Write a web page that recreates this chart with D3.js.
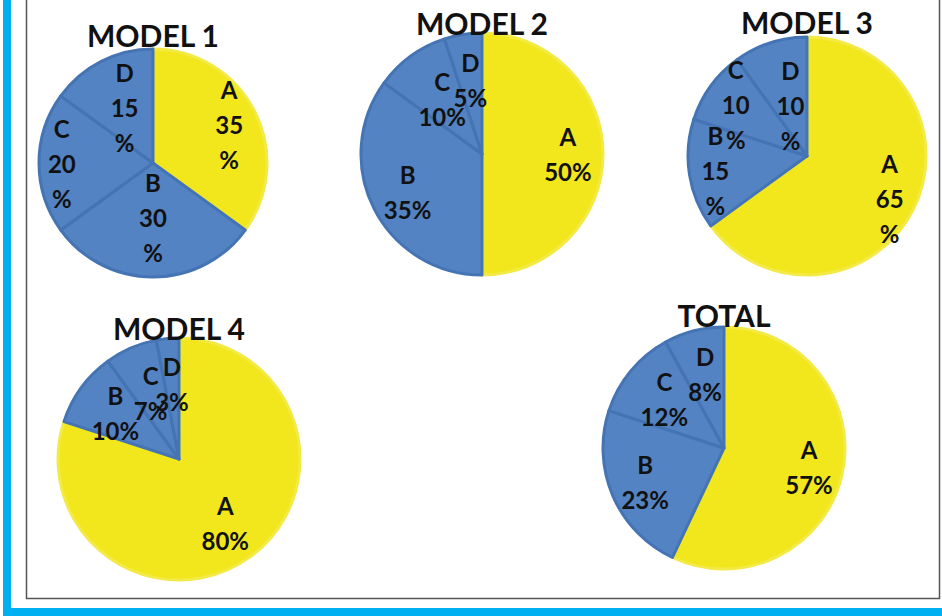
<!DOCTYPE html>
<html>
<head>
<meta charset="utf-8">
<script src="https://cdn.jsdelivr.net/npm/d3@7"></script>
<style>
  html, body { margin: 0; padding: 0; background: #fff; }
  svg { display: block; }
</style>
</head>
<body>
<svg id="chart" width="942" height="616"></svg>
<script>
// ---- data ----
const categories = ["A", "B", "C", "D"];
const chartTitles = ["MODEL 1", "MODEL 2", "MODEL 3", "MODEL 4", "TOTAL"];
const model1 = [35, 30, 20, 15];
const model2 = [50, 35, 10, 5];
const model3 = [65, 15, 10, 10];
const model4 = [80, 10, 7, 3];
const total  = [57, 23, 12, 8];
const seriesValues = [model1, model2, model3, model4, total];

// ---- layout (positions / sizes / styles) ----
const layout = [
  { cx: 153, cy: 163, r: 114, titleDy: -2, narrow: true,  labelR: [0.75, 0.48, 0.80, 0.55] },
  { cx: 482, cy: 154, r: 121, titleDy: 2,  narrow: false, labelR: [0.71, 0.69, 0.56, 0.62] },
  { cx: 807, cy: 156, r: 119, titleDy: -3, narrow: true,  labelR: [0.78, 0.78, 0.74, 0.45] },
  { cx: 179, cy: 459, r: 121, titleDy: 2,  narrow: false, labelR: [0.65, 0.65, 0.59, 0.62] },
  { cx: 724, cy: 448, r: 121, titleDy: 0,  narrow: false, labelR: [0.72, 0.71, 0.64, 0.63] }
];
const fillColor = d3.scaleOrdinal().domain(categories).range(["#f1e71c", "#5383c3", "#5383c3", "#5383c3"]);
const strokeColor = d3.scaleOrdinal().domain(categories).range(["#f3ea48", "#4574b4", "#4574b4", "#4574b4"]);
const font = "Lato, 'Open Sans', sans-serif";

const svg = d3.select("#chart");

// frame
svg.append("rect").attr("x", 0).attr("y", 0).attr("width", 942).attr("height", 616).attr("fill", "#fff");
svg.append("rect").attr("x", 3).attr("y", 0).attr("width", 8).attr("height", 616).attr("fill", "#00b0f0");
svg.append("rect").attr("x", 3).attr("y", 608).attr("width", 939).attr("height", 8).attr("fill", "#00b0f0");
svg.append("path")
  .attr("d", "M26.5,0 V598.5 H939.5 V0")
  .attr("fill", "none").attr("stroke", "#555").attr("stroke-width", 1.5);

const pie = d3.pie().sort(null).value(d => d);

seriesValues.forEach((vals, i) => {
  const L = layout[i];
  const g = svg.append("g").attr("transform", `translate(${L.cx},${L.cy})`);
  const arcs = pie(vals);
  const arc = d3.arc().innerRadius(0).outerRadius(L.r);

  g.selectAll("path.slice").data(arcs).enter().append("path")
    .attr("class", "slice")
    .attr("d", arc)
    .attr("fill", (d, j) => fillColor(categories[j]))
    .attr("stroke", (d, j) => strokeColor(categories[j]))
    .attr("stroke-width", 3)
    .attr("stroke-linejoin", "round");

  // labels
  arcs.forEach((d, j) => {
    const lr = L.labelR[j] * L.r;
    const c = d3.arc().innerRadius(lr).outerRadius(lr).centroid(d);
    const lines = L.narrow
      ? [categories[j], String(vals[j]), "%"]
      : [categories[j], vals[j] + "%"];
    const step = 35;
    const t = g.append("text")
      .attr("x", c[0]).attr("y", c[1])
      .attr("text-anchor", "middle")
      .attr("font-family", font)
      .attr("font-weight", "bold")
      .attr("font-size", 24)
      .attr("fill", "#111");
    lines.forEach((ln, k) => {
      t.append("tspan")
        .attr("x", c[0])
        .attr("y", c[1] + (k - (lines.length - 1) / 2) * step)
        .attr("dominant-baseline", "central")
        .text(ln);
    });
  });

  // title
  svg.append("text")
    .attr("x", L.cx)
    .attr("y", L.cy - L.r + L.titleDy)
    .attr("text-anchor", "middle")
    .attr("font-family", font)
    .attr("font-weight", "bold")
    .attr("font-size", 30)
    .attr("fill", "#111")
    .text(chartTitles[i]);
});
</script>
</body>
</html>
